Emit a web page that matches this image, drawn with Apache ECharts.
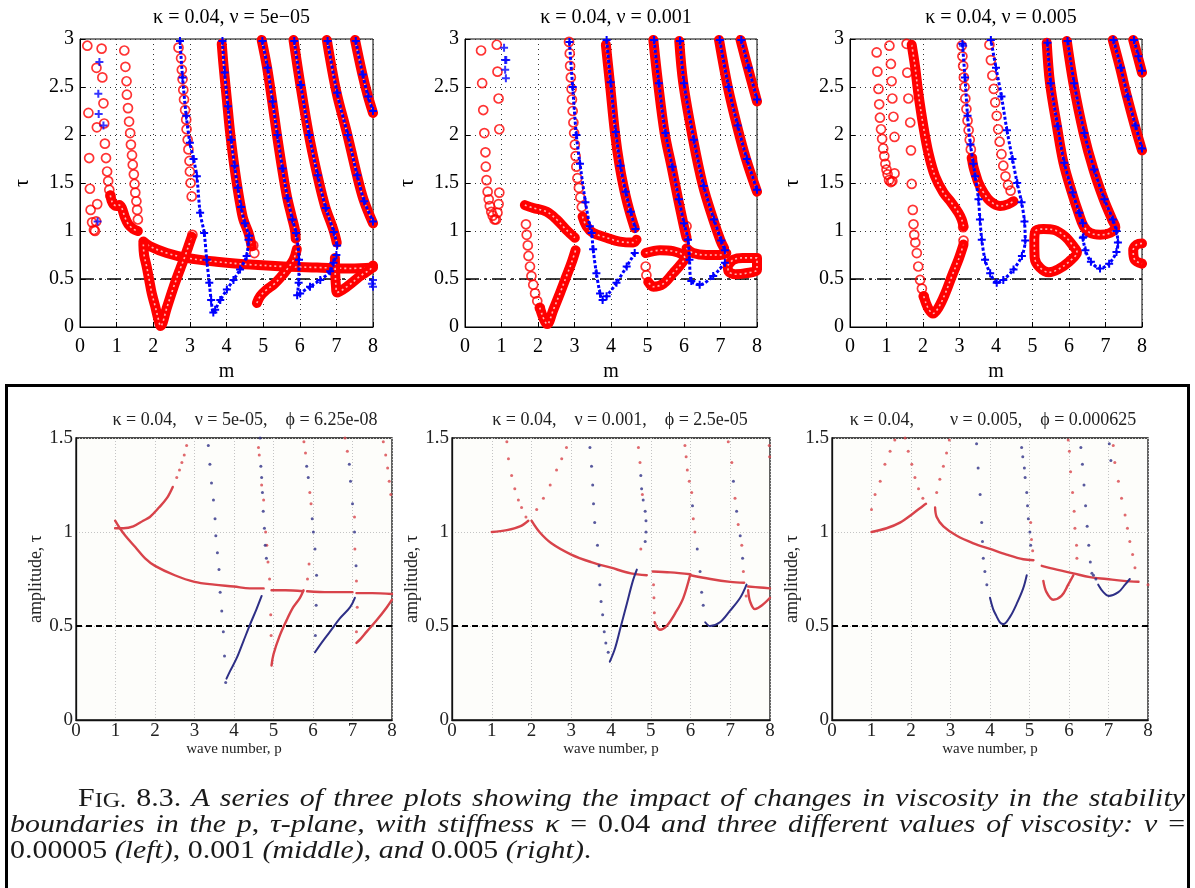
<!DOCTYPE html>
<html><head><meta charset="utf-8">
<script src="https://cdn.jsdelivr.net/npm/echarts@6/dist/echarts.min.js"></script>
<style>html,body{margin:0;padding:0;background:#fff}#c{width:1195px;height:888px}</style>
</head><body><div id="c"></div>
<script>
// ---------- tick labels / titles ----------
const mTicks = [0,1,2,3,4,5,6,7,8];
const tauTicksTop = [0,0.5,1,1.5,2,2.5,3];
const ampTicksBottom = [0,0.5,1,1.5];
const tauThreshold = [[0,0.5],[8,0.5]];
const topTitles = ['κ = 0.04, ν = 5e−05','κ = 0.04, ν = 0.001','κ = 0.04, ν = 0.005'];
const bottomTitles = ['κ = 0.04,    ν = 5e-05,    ϕ = 6.25e-08','κ = 0.04,    ν = 0.001,    ϕ = 2.5e-05','κ = 0.04,        ν = 0.005,    ϕ = 0.000625'];

// ---------- top row, panel 1 (ν = 5e-05) ----------
const top1RedCircles = [
 [0.2,2.93],[0.23,2.23],[0.25,1.76],[0.27,1.44],[0.29,1.22],[0.33,1.09],[0.38,1.01],[0.41,1.0],[0.44,1.1],[0.47,1.28],[0.46,2.08],[0.45,2.7],
 [0.59,2.9],[0.61,2.6],[0.64,2.33],[0.66,2.12],[0.68,1.91],[0.71,1.76],[0.74,1.62],[0.77,1.52],[0.8,1.43],[0.83,1.37],
 [1.21,2.88],[1.24,2.71],[1.27,2.56],[1.28,2.42],[1.31,2.28],[1.34,2.14],[1.37,2.02],[1.39,1.9],[1.42,1.79],[1.44,1.69],[1.47,1.59],[1.49,1.49],[1.51,1.4],[1.54,1.31],[1.56,1.22],[1.58,1.12],
 [2.69,2.91],[2.76,2.8],[2.78,2.68],[2.8,2.58],[2.82,2.47],[2.84,2.37],[2.87,2.26],[2.9,2.16],[2.91,2.06],[2.94,1.95],[2.96,1.85],[2.99,1.73],[3.0,1.62],[3.02,1.5],[3.05,1.36],
 [3.07,0.96],[4.76,0.77],[4.73,0.85]
];
const top1RedBands = [
 [[0.83,1.37],[0.86,1.32],[0.91,1.28],[1.0,1.26],[1.07,1.27],[1.14,1.24],[1.23,1.14],[1.32,1.07],[1.46,1.02],[1.58,1.0]],
 [[1.73,0.89],[1.91,0.84],[2.37,0.77],[2.91,0.72],[3.73,0.68],[4.64,0.65],[5.56,0.63],[6.47,0.62],[7.38,0.61],[8.0,0.62]],
 [[1.73,0.86],[1.75,0.75],[1.82,0.63],[1.89,0.49],[1.96,0.35],[2.05,0.22],[2.14,0.08],[2.2,0.01],[2.37,0.2],[2.55,0.41],[2.73,0.6],[2.87,0.74],[2.96,0.84],[3.05,0.94]],
 [[3.87,2.95],[3.92,2.72],[4.01,2.37],[4.1,2.02],[4.19,1.74],[4.28,1.5],[4.37,1.29],[4.46,1.12],[4.6,0.98],[4.69,0.84]],
 [[4.96,2.99],[5.1,2.72],[5.24,2.37],[5.37,2.02],[5.51,1.67],[5.65,1.36],[5.78,1.15],[5.87,1.01],[5.89,0.92]],
 [[4.83,0.25],[4.92,0.32],[5.1,0.39],[5.28,0.44],[5.46,0.51],[5.65,0.6],[5.83,0.7],[5.92,0.81]],
 [[5.83,2.99],[6.01,2.54],[6.24,2.02],[6.47,1.6],[6.69,1.26],[6.92,1.01],[7.01,0.88]],
 [[6.74,2.99],[7.0,2.45],[7.29,2.02],[7.55,1.6],[7.74,1.33],[8.0,1.08]],
 [[7.51,2.99],[7.7,2.65],[7.85,2.42],[8.0,2.23]],
 [[6.96,0.72],[6.97,0.55],[6.99,0.42],[7.02,0.36],[7.29,0.42],[7.65,0.53],[7.92,0.6],[8.0,0.64]]
];
const top1BluePaths = [
 [[2.73,2.98],[2.8,2.6],[2.9,2.2],[3.0,1.92],[3.1,1.75],[3.19,1.57],[3.28,1.19],[3.39,0.98],[3.46,0.7],[3.53,0.46],[3.58,0.28],[3.64,0.15],[3.69,0.18],[3.83,0.28],[4.01,0.39],[4.19,0.49],[4.37,0.6],[4.55,0.74],[4.6,0.91]],
 [[3.89,2.98],[3.95,2.65],[4.04,2.3],[4.13,1.95],[4.22,1.68],[4.31,1.45],[4.4,1.25],[4.5,1.08],[4.62,0.95]],
 [[4.98,2.98],[5.12,2.7],[5.26,2.35],[5.39,2.0],[5.53,1.65],[5.67,1.34],[5.8,1.12],[5.9,0.98],[5.98,0.7],[5.97,0.46],[5.93,0.33],[6.01,0.35],[6.28,0.42],[6.56,0.49],[6.83,0.58],[6.92,0.67],[7.0,0.75]],
 [[5.85,2.98],[6.03,2.52],[6.26,2.0],[6.49,1.58],[6.71,1.24],[6.93,0.99],[7.02,0.85]],
 [[6.76,2.98],[7.02,2.44],[7.31,2.0],[7.57,1.58],[7.76,1.31],[8.0,1.1]],
 [[7.53,2.98],[7.72,2.63],[7.87,2.4],[8.0,2.25]]
];
const top1BlueCrosses = [[0.53,2.76],[0.5,2.43],[0.51,2.22],[0.64,2.1],[0.48,1.1],[8.0,0.49],[8.0,0.42],[7.97,0.45]];

// ---------- top row, panel 2 (ν = 0.001) ----------
const top2RedCircles = [
 [0.44,2.88],[0.47,2.54],[0.5,2.26],[0.53,2.02],[0.56,1.82],[0.57,1.67],[0.59,1.53],[0.62,1.41],[0.65,1.33],[0.68,1.26],[0.72,1.2],[0.76,1.16],[0.81,1.12],[0.85,1.12],[0.89,1.19],[0.92,1.28],[0.94,1.4],
 [0.87,2.94],[0.89,2.66],[0.92,2.38],[0.94,2.06],
 [1.67,1.07],[1.69,0.96],[1.72,0.85],[1.74,0.74],[1.78,0.63],[1.82,0.53],[1.87,0.44],[1.92,0.35],[1.98,0.27],[2.05,0.2],
 [2.85,2.97],[2.87,2.85],[2.88,2.72],[2.9,2.6],[2.92,2.48],[2.93,2.37],[2.95,2.25],[2.97,2.13],[2.99,2.02],[3.01,1.9],[3.03,1.78],[3.05,1.67],[3.08,1.55],[3.12,1.45],[3.16,1.35],[3.2,1.25],
 [4.95,0.63],[4.97,0.54],[6.07,1.05]
];
const top2RedBands = [
 [[1.64,1.27],[1.87,1.24],[2.24,1.2],[2.51,1.12],[2.78,1.01],[3.01,0.93]],
 [[2.05,0.2],[2.12,0.12],[2.2,0.05],[2.25,0.03],[2.42,0.18],[2.6,0.35],[2.78,0.53],[2.92,0.67],[3.03,0.8]],
 [[3.22,1.15],[3.33,1.05],[3.51,0.98],[3.88,0.93],[4.24,0.89],[4.61,0.88],[4.7,0.91]],
 [[3.86,2.94],[3.97,2.54],[4.11,2.02],[4.24,1.67],[4.38,1.4],[4.52,1.19],[4.65,1.03]],
 [[5.16,2.99],[5.29,2.54],[5.47,2.02],[5.66,1.67],[5.84,1.33],[5.98,1.08],[6.07,0.93]],
 [[4.95,0.77],[5.34,0.8],[5.7,0.79],[5.98,0.75],[6.02,0.72],[5.93,0.66],[5.7,0.56],[5.43,0.45],[5.16,0.42],[5.02,0.47]],
 [[5.87,2.98],[5.98,2.54],[6.25,1.95],[6.52,1.47],[6.8,1.12],[7.0,0.9],[7.1,0.82]],
 [[6.07,0.82],[6.25,0.77],[6.61,0.75],[6.98,0.75],[7.16,0.77]],
 [[6.96,2.99],[7.2,2.5],[7.45,2.1],[7.7,1.75],[8.0,1.41]],
 [[7.55,2.99],[7.75,2.7],[8.0,2.35]],
 [[7.2,0.64],[7.35,0.7],[7.6,0.72],[8.0,0.72],[8.0,0.6],[7.7,0.56],[7.4,0.55],[7.22,0.58],[7.2,0.64]]
];
const top2BluePaths = [
 [[2.86,2.97],[2.95,2.5],[3.05,2.0],[3.15,1.7],[3.3,1.3],[3.42,1.05],[3.47,0.98],[3.51,0.81],[3.6,0.56],[3.7,0.35],[3.77,0.28],[3.88,0.32],[4.15,0.46],[4.43,0.63],[4.65,0.77]],
 [[3.88,2.99],[3.99,2.55],[4.13,2.03],[4.26,1.68],[4.4,1.41],[4.54,1.2],[4.67,1.02]],
 [[5.18,2.99],[5.31,2.54],[5.49,2.02],[5.68,1.67],[5.86,1.33],[6.0,1.08],[6.11,0.91],[6.15,0.7],[6.2,0.48],[6.43,0.44],[6.8,0.53],[7.12,0.67]],
 [[5.89,2.98],[6.0,2.54],[6.27,1.95],[6.54,1.47],[6.82,1.12],[7.02,0.9],[7.12,0.8]],
 [[6.98,2.99],[7.22,2.5],[7.47,2.1],[7.72,1.75],[8.0,1.43]],
 [[7.57,2.99],[7.77,2.7],[8.0,2.37]]
];
const top2BlueCrosses = [[1.07,2.91],[1.1,2.78],[1.13,2.78],[1.1,2.68],[1.12,2.59]];

// ---------- top row, panel 3 (ν = 0.005) ----------
const top3RedCircles = [
 [0.73,2.86],[0.75,2.66],[0.78,2.48],[0.8,2.32],[0.82,2.18],[0.85,2.06],[0.88,1.96],[0.91,1.86],[0.94,1.78],[0.97,1.7],[1.0,1.64],[1.03,1.59],[1.07,1.53],[1.12,1.51],[1.16,1.52],[1.22,1.6],
 [1.08,2.93],[1.12,2.74],[1.14,2.56],[1.16,2.38],[1.19,2.19],[1.22,1.98],
 [1.55,2.95],[1.57,2.65],[1.6,2.38],[1.65,2.13],[1.67,1.84],[1.69,1.49],[1.72,1.22],[1.74,1.07],[1.76,0.96],[1.79,0.88],[1.83,0.77],[1.87,0.63],[1.92,0.49],[1.97,0.4],[2.02,0.32],
 [3.06,2.93],[3.08,2.82],[3.1,2.72],[3.12,2.6],[3.14,2.5],[3.16,2.38],[3.19,2.27],[3.22,2.15],[3.25,2.05],[3.28,1.95],[3.31,1.85],[3.34,1.76],
 [3.82,2.94],[3.86,2.78],[3.9,2.62],[3.94,2.48],[3.98,2.34],[4.02,2.2],[4.06,2.06],[4.1,1.93],[4.15,1.8],[4.2,1.68],[4.26,1.57],[4.33,1.48],[4.4,1.42],
 [3.1,1.04],[3.11,0.9]
];
const top3RedBands = [
 [[1.69,2.94],[1.78,2.72],[1.87,2.44],[2.01,2.09],[2.15,1.81],[2.33,1.57],[2.56,1.4],[2.79,1.29],[2.97,1.19],[3.06,1.12],[3.11,1.05]],
 [[2.02,0.32],[2.08,0.25],[2.15,0.19],[2.27,0.14],[2.42,0.2],[2.61,0.35],[2.79,0.53],[2.97,0.7],[3.11,0.86]],
 [[3.34,1.76],[3.38,1.67],[3.45,1.58],[3.52,1.5],[3.66,1.4],[3.84,1.31],[4.11,1.26],[4.34,1.28],[4.48,1.31]],
 [[5.39,2.96],[5.48,2.54],[5.67,2.09],[5.85,1.71],[6.08,1.4],[6.26,1.19],[6.4,1.05],[6.58,0.98],[6.86,0.96],[7.13,0.98],[7.27,1.04],[7.18,1.12],[6.95,1.33],[6.67,1.64],[6.4,2.02],[6.12,2.54],[5.94,2.98]],
 [[7.2,2.99],[7.4,2.7],[7.59,2.4],[7.8,2.1],[8.0,1.84]],
 [[7.76,2.99],[7.88,2.82],[8.0,2.65]],
 [[5.05,0.9],[5.08,1.0],[5.3,1.02],[5.6,1.01],[5.9,0.94],[6.1,0.85],[6.22,0.78],[6.0,0.68],[5.7,0.6],[5.45,0.57],[5.2,0.62],[5.06,0.72],[5.05,0.9]],
 [[8.0,0.87],[7.86,0.86],[7.76,0.8],[7.8,0.7],[8.0,0.66]]
];
const top3BluePaths = [
 [[3.08,2.95],[3.15,2.6],[3.22,2.2],[3.3,1.9],[3.38,1.7],[3.43,1.57],[3.52,1.33],[3.56,1.12],[3.61,0.91],[3.7,0.7],[3.84,0.56],[4.02,0.46],[4.2,0.49],[4.48,0.6],[4.71,0.74],[4.8,0.9],[4.78,1.1],[4.7,1.3],[4.58,1.5],[4.45,1.75],[4.3,2.05],[4.15,2.4],[4.0,2.7],[3.86,2.99]],
 [[6.38,0.93],[6.45,0.8],[6.6,0.68],[6.85,0.61],[7.1,0.66],[7.3,0.78],[7.34,0.88],[7.3,1.0],[7.2,1.12],[6.97,1.33],[6.69,1.64],[6.42,2.02],[6.14,2.54],[5.96,2.98]],
 [[5.41,2.96],[5.5,2.54],[5.69,2.09],[5.87,1.71],[6.1,1.4],[6.28,1.19],[6.38,1.08]],
 [[7.22,2.99],[7.42,2.7],[7.61,2.4],[7.82,2.1],[8.0,1.86]],
 [[7.78,2.99],[7.9,2.82],[8.0,2.67]]
];
const top3BlueCrosses = [[6.4,0.94],[3.1,2.93]];

// ---------- bottom row, panel A ----------
const bot1RedLines = [
 [[0.99,1.02],[1.2,1.02],[1.45,1.03],[1.7,1.06],[1.87,1.08],[2.1,1.13],[2.3,1.18],[2.45,1.24]],
 [[0.99,1.06],[1.11,1.02],[1.25,0.98],[1.5,0.92],[1.75,0.86],[2.0,0.82],[2.5,0.77],[3.0,0.735],[3.5,0.72],[4.0,0.71],[4.4,0.7],[4.75,0.7]],
 [[4.95,0.69],[5.3,0.69],[5.75,0.685]],
 [[5.85,0.685],[6.4,0.68],[7.0,0.68]],
 [[7.1,0.675],[7.5,0.675],[8.0,0.67]],
 [[4.95,0.29],[5.0,0.35],[5.16,0.45],[5.33,0.53],[5.5,0.6],[5.67,0.65],[5.76,0.69]],
 [[7.1,0.41],[7.2,0.43],[7.36,0.47],[7.61,0.53],[7.87,0.6],[8.0,0.64]]
];
const bot1RedDots = [
 [2.55,1.29],[2.62,1.33],[2.68,1.37],[2.74,1.41],[2.8,1.46],
 [4.62,1.45],[4.64,1.41],[4.7,1.25],[4.75,1.17],[4.8,1.0],[4.83,0.93],[4.86,0.84],[4.9,0.75],[4.93,0.56],[4.94,0.45],
 [5.77,1.48],[5.81,1.42],[5.92,1.21],[5.95,1.15],[5.9,0.83],[5.86,0.75],
 [6.81,1.5],[6.87,1.43],[7.05,1.08],[7.06,0.91],[7.1,0.74],[7.12,0.6],[7.1,0.47],
 [7.78,1.48],[7.84,1.41],[7.89,1.34],[7.93,1.27],[7.97,1.2]
];
const bot1NavyLines = [
 [[3.81,0.22],[3.9,0.26],[4.07,0.33],[4.24,0.42],[4.41,0.51],[4.57,0.59],[4.7,0.66]],
 [[6.05,0.36],[6.18,0.4],[6.43,0.47],[6.68,0.54],[6.94,0.6],[7.06,0.65]]
];
const bot1NavyDots = [
 [3.35,1.46],[3.39,1.36],[3.43,1.26],[3.48,1.17],[3.52,1.07],[3.54,0.98],[3.58,0.89],[3.62,0.8],[3.65,0.68],[3.69,0.58],[3.73,0.47],[3.76,0.34],[3.79,0.2],
 [4.66,1.5],[4.68,1.35],[4.7,1.29],[4.72,1.21],[4.74,1.11],[4.77,1.02],[4.79,0.93],[4.82,0.86],
 [5.84,1.35],[5.88,1.29],[5.98,1.07],[6.01,1.0],[6.05,0.91],[6.09,0.77],[6.08,0.61],[6.06,0.45],
 [6.92,1.36],[6.95,1.27],[7.0,1.15],[7.05,1.0],[7.09,0.82]
];

// ---------- bottom row, panel B ----------
const bot2RedLines = [
 [[1.0,1.0],[1.38,1.01],[1.71,1.03],[1.92,1.06]],
 [[2.0,1.06],[2.2,1.0],[2.5,0.94],[3.0,0.88],[3.5,0.84],[4.0,0.81],[4.5,0.78],[4.9,0.77]],
 [[5.05,0.79],[5.5,0.785],[6.0,0.775]],
 [[6.0,0.77],[6.5,0.75],[7.0,0.735],[7.35,0.73]],
 [[7.45,0.71],[7.75,0.705],[8.0,0.7]],
 [[5.1,0.52],[5.23,0.48],[5.4,0.5],[5.65,0.58],[5.82,0.65],[5.99,0.77]],
 [[7.45,0.69],[7.5,0.63],[7.62,0.59],[7.8,0.61],[8.0,0.65]]
];
const bot2RedDots = [
 [1.38,1.48],[1.42,1.39],[1.5,1.3],[1.58,1.23],[1.67,1.17],[1.75,1.13],[1.86,1.08],
 [2.13,1.12],[2.3,1.18],[2.47,1.25],[2.63,1.33],[2.76,1.39],[2.88,1.45],
 [4.69,1.45],[4.73,1.37],[4.79,1.2],[4.75,0.91],
 [5.07,0.72],[5.08,0.65],[5.09,0.57],
 [5.86,1.46],[5.89,1.4],[5.92,1.33],[5.97,1.27],[6.03,1.21],[6.07,1.07],[6.11,1.0],
 [6.95,1.48],[7.04,1.37],[7.12,1.18],[7.2,1.04],[7.29,0.93],[7.33,0.79],[7.4,0.66],
 [7.98,1.46],[7.99,1.4]
];
const bot2NavyLines = [
 [[3.97,0.31],[4.1,0.38],[4.25,0.5],[4.4,0.62],[4.55,0.74],[4.65,0.8]],
 [[6.37,0.52],[6.49,0.5],[6.74,0.52],[6.99,0.58],[7.25,0.65],[7.41,0.72]]
];
const bot2NavyDots = [
 [3.47,1.45],[3.51,1.35],[3.54,1.25],[3.56,1.15],[3.59,1.05],[3.66,0.93],[3.7,0.82],[3.72,0.72],[3.75,0.63],[3.79,0.56],[3.83,0.47],[3.87,0.41],[3.93,0.36],
 [4.75,1.3],[4.77,1.23],[4.81,1.17],[4.86,1.11],[4.88,1.06],[4.88,1.0],[4.86,0.95],
 [6.05,1.14],[6.17,0.91],[6.24,0.79],[6.28,0.68],[6.32,0.61],
 [7.08,1.27],[7.16,1.11],[7.25,0.98],[7.31,0.86]
];

// ---------- bottom row, panel C ----------
const bot3RedLines = [
 [[1.0,1.0],[1.38,1.02],[1.72,1.05],[2.06,1.1],[2.31,1.14],[2.38,1.15]],
 [[2.61,1.13],[2.65,1.08],[2.82,1.03],[3.16,0.98],[3.58,0.94],[4.0,0.91],[4.42,0.88],[4.84,0.855],[5.1,0.85]],
 [[5.31,0.82],[5.69,0.8],[6.11,0.78],[6.53,0.76],[6.95,0.75],[7.38,0.74],[7.76,0.735]],
 [[5.35,0.74],[5.43,0.68],[5.6,0.64],[5.81,0.66],[5.98,0.72],[6.11,0.77]]
];
const bot3RedDots = [
 [1.0,1.12],[1.09,1.2],[1.22,1.27],[1.34,1.36],[1.47,1.43],[1.59,1.49],
 [1.85,1.5],[1.93,1.43],[2.02,1.36],[2.1,1.29],[2.19,1.23],[2.3,1.18],
 [2.65,1.21],[2.73,1.28],[2.82,1.35],[2.9,1.42],[2.97,1.49],
 [5.03,1.05],[5.05,0.96],[5.08,0.9],
 [5.98,1.49],[6.01,1.43],[6.04,1.32],[6.09,1.21],[6.13,1.11],[6.15,1.02],[6.19,0.93],[6.2,0.86],
 [7.12,1.46],[7.16,1.37],[7.25,1.27],[7.33,1.18],[7.42,1.09],[7.48,1.02],[7.54,0.95],[7.61,0.88],[7.67,0.81],
 [8.0,0.72]
];
const bot3NavyLines = [
 [[4.0,0.65],[4.08,0.59],[4.17,0.55],[4.25,0.52],[4.34,0.51],[4.51,0.55],[4.68,0.62],[4.84,0.7],[4.93,0.77]],
 [[6.74,0.72],[6.87,0.68],[7.0,0.66],[7.25,0.68],[7.42,0.72],[7.54,0.75]]
];
const bot3NavyDots = [
 [3.66,1.47],[3.7,1.34],[3.75,1.2],[3.79,1.05],[3.81,0.95],[3.83,0.86],[3.87,0.79],[3.92,0.72],
 [4.8,1.45],[4.83,1.4],[4.87,1.34],[4.89,1.29],[4.93,1.21],[4.95,1.14],[4.97,1.07],[5.01,1.0],[5.03,0.93],
 [6.3,1.45],[6.34,1.36],[6.38,1.25],[6.42,1.14],[6.46,1.03],[6.5,0.93],[6.54,0.84],[6.58,0.78],[6.62,0.77],[6.68,0.75],
 [7.02,1.47],[7.06,1.38]
];

// ---------- caption ----------
const captionLines = [
 [['rm','F'],['sc','IG.'],['rm',' 8.3. '],['it','A series of three plots showing the impact of changes in viscosity in the stability']],
 [['it','boundaries in the p'],['rm',', '],['it','τ-plane, with stiffness κ'],['rm',' = 0.04 '],['it','and three different values of viscosity: ν'],['rm',' =']],
 [['rm','0.00005 '],['it','(left)'],['rm',', 0.001 '],['it','(middle)'],['rm',', '],['it','and'],['rm',' 0.005 '],['it','(right)'],['rm','.']]
];

// ================= rendering =================
const SERIF = '"Liberation Serif", "DejaVu Serif", serif';
const RED = '#ff0000', BLUE = '#0000ff', BRED = '#d8434a', NAVY = '#2e2f86';
const PLUS = 'path://M3,0H5V3H8V5H5V8H3V5H0V3H3Z';

const topGrids = [
 {left:80, top:39, width:293, height:288},
 {left:465, top:39, width:292, height:288},
 {left:850, top:39, width:292, height:288}
];
const botGrids = [
 {left:76, top:438, width:316, height:282},
 {left:452, top:438, width:318, height:282},
 {left:832, top:438, width:316, height:282}
];
const grids = [];
topGrids.forEach(g => grids.push(Object.assign({show:true, borderColor:'#000', borderWidth:1, backgroundColor:'transparent'}, g)));
botGrids.forEach(g => grids.push(Object.assign({show:true, borderColor:'#111', borderWidth:1.3, backgroundColor:'#fdfdfa'}, g)));

const xAxes = [], yAxes = [];
for (let i = 0; i < 3; i++) {
  xAxes.push({gridIndex:i, type:'value', min:mTicks[0], max:mTicks[mTicks.length-1], interval:mTicks[1]-mTicks[0],
    name:'m', nameLocation:'middle', nameGap:35, nameTextStyle:{fontFamily:SERIF, fontSize:20, color:'#000'},
    axisLine:{show:true, lineStyle:{color:'#000', width:1}},
    axisTick:{show:true, inside:true, length:5, lineStyle:{color:'#000'}},
    axisLabel:{fontFamily:SERIF, fontSize:20, color:'#000', margin:10},
    splitLine:{show:true, lineStyle:{color:'#333', type:[1,4], width:1}}});
  yAxes.push({gridIndex:i, type:'value', min:tauTicksTop[0], max:tauTicksTop[tauTicksTop.length-1], interval:tauTicksTop[1]-tauTicksTop[0],
    name:'τ', nameLocation:'middle', nameGap:47, nameRotate:90, nameTextStyle:{fontFamily:SERIF, fontSize:20, color:'#000'},
    axisLine:{show:true, lineStyle:{color:'#000', width:1}},
    axisTick:{show:true, inside:true, length:5, lineStyle:{color:'#000'}},
    axisLabel:{fontFamily:SERIF, fontSize:20, color:'#000', margin:6},
    splitLine:{show:true, lineStyle:{color:'#333', type:[1,4], width:1}}});
}
for (let i = 0; i < 3; i++) {
  xAxes.push({gridIndex:3+i, type:'value', min:mTicks[0], max:mTicks[mTicks.length-1], interval:mTicks[1]-mTicks[0],
    name:'wave number, p', nameLocation:'middle', nameGap:17, nameTextStyle:{fontFamily:SERIF, fontSize:15, color:'#222'},
    axisLine:{show:true, lineStyle:{color:'#111', width:1.3}},
    axisTick:{show:false},
    axisLabel:{fontFamily:SERIF, fontSize:19, color:'#222', margin:2},
    splitLine:{show:true, lineStyle:{color:'#c4c4c4', type:[1,2], width:1}}});
  yAxes.push({gridIndex:3+i, type:'value', min:ampTicksBottom[0], max:ampTicksBottom[ampTicksBottom.length-1], interval:ampTicksBottom[1]-ampTicksBottom[0],
    name:'amplitude, τ', nameLocation:'middle', nameGap:19, nameRotate:90, nameTextStyle:{fontFamily:SERIF, fontSize:18, color:'#222'},
    axisLine:{show:true, lineStyle:{color:'#111', width:1.3}},
    axisTick:{show:false},
    axisLabel:{fontFamily:SERIF, fontSize:19, color:'#222', margin:3},
    splitLine:{show:true, lineStyle:{color:'#c4c4c4', type:[1,2], width:1}}});
}

const series = [];
function add(gi, s) { series.push(Object.assign({xAxisIndex:gi, yAxisIndex:gi, silent:true, animation:false, clip:false}, s)); }

function topPanel(gi, bands, circles, bluePaths, blueCrosses) {
  add(gi, {type:'line', data:tauThreshold, symbol:'none', z:1, lineStyle:{color:'#000', width:1.6, type:[14,5,3,5]}});
  bands.forEach(b => {
    add(gi, {type:'line', data:b, symbol:'none', smooth:0.35, z:2, lineStyle:{color:RED, width:10, cap:'round', join:'round'}});
    add(gi, {type:'line', data:b, symbol:'none', smooth:0.35, z:2, lineStyle:{color:'rgba(255,215,215,0.85)', width:1.6, type:[2,3], cap:'butt'}});
  });
  add(gi, {type:'scatter', data:circles, symbol:'circle', symbolSize:9, z:3,
    itemStyle:{color:'rgba(255,255,255,0)', borderColor:RED, borderWidth:1.7}});
  bluePaths.forEach(b => add(gi, {type:'line', data:b, symbol:PLUS, symbolSize:8, showAllSymbol:true, smooth:0.3, z:4,
    itemStyle:{color:BLUE}, lineStyle:{color:BLUE, width:3, type:[3,2]}}));
  add(gi, {type:'scatter', data:blueCrosses, symbol:PLUS, symbolSize:8, z:4, itemStyle:{color:BLUE}});
}
function botPanel(gi, redLines, redDots, navyLines, navyDots) {
  add(gi, {type:'line', data:tauThreshold, symbol:'none', z:1, lineStyle:{color:'#000', width:2.2, type:[6,4]}});
  redLines.forEach(b => add(gi, {type:'line', data:b, symbol:'none', smooth:0.35, z:3, lineStyle:{color:BRED, width:2.4, cap:'round'}}));
  add(gi, {type:'scatter', data:redDots, symbol:'circle', symbolSize:3, z:3, itemStyle:{color:BRED}});
  navyLines.forEach(b => add(gi, {type:'line', data:b, symbol:'none', smooth:0.35, z:3, lineStyle:{color:NAVY, width:2, cap:'round'}}));
  add(gi, {type:'scatter', data:navyDots, symbol:'circle', symbolSize:3, z:3, itemStyle:{color:NAVY}});
}
topPanel(0, top1RedBands, top1RedCircles, top1BluePaths, top1BlueCrosses);
topPanel(1, top2RedBands, top2RedCircles, top2BluePaths, top2BlueCrosses);
topPanel(2, top3RedBands, top3RedCircles, top3BluePaths, top3BlueCrosses);
botPanel(3, bot1RedLines, bot1RedDots, bot1NavyLines, bot1NavyDots);
botPanel(4, bot2RedLines, bot2RedDots, bot2NavyLines, bot2NavyDots);
botPanel(5, bot3RedLines, bot3RedDots, bot3NavyLines, bot3NavyDots);

const titles = [];
topGrids.forEach((g, i) => titles.push({text:topTitles[i], left:g.left + g.width/2, top:3, textAlign:'center',
  textStyle:{fontFamily:SERIF, fontSize:20, fontWeight:'normal', color:'#000'}}));
botGrids.forEach((g, i) => titles.push({text:bottomTitles[i], left:[240,615,988][i], top:406, textAlign:'center',
  textStyle:{fontFamily:SERIF, fontSize:18, fontWeight:'normal', color:'#222'}}));

// caption layout (justified lines; glyphs widened to match the wider original typeface)
const CS = 26, SX = 1.15;
const fonts = {rm: CS + 'px ' + SERIF, it: 'italic ' + CS + 'px ' + SERIF, sc: Math.round(CS*0.8) + 'px ' + SERIF};
const ctx = document.createElement('canvas').getContext('2d');
function mw(f, t) { ctx.font = fonts[f]; return ctx.measureText(t).width * SX; }
function words(line) {
  const out = []; let cur = null;
  line.forEach(([f, txt]) => { for (const ch of txt) {
    if (ch === ' ') { if (cur) { out.push(cur); cur = null; } }
    else { if (!cur) cur = []; const last = cur[cur.length-1];
      if (last && last[0] === f) last[1] += ch; else cur.push([f, ch]); } } });
  if (cur) out.push(cur);
  return out;
}
const capLayout = [{x0:78, x1:1185, y:812}, {x0:10, x1:1185, y:838}, {x0:10, x1:null, y:864}];
const graphics = [{type:'rect', shape:{x:6.5, y:385.5, width:1182, height:560}, style:{fill:'none', stroke:'#000', lineWidth:3}, silent:true}];
captionLines.forEach((line, li) => {
  const L = capLayout[li]; const ws = words(line);
  const widths = ws.map(w => w.reduce((s, p) => s + mw(p[0], p[1]), 0));
  const total = widths.reduce((a, b) => a + b, 0);
  let gap = L.x1 ? (L.x1 - L.x0 - total) / (ws.length - 1) : mw('rm', ' ');
  let x = L.x0;
  ws.forEach((w, wi) => {
    let px = x;
    w.forEach(p => { graphics.push({type:'text', x:px, y:L.y, scaleX:SX, silent:true,
      style:{text:p[1], font:fonts[p[0]], fill:'#1a1a1a', align:'left', verticalAlign:'bottom'}}); px += mw(p[0], p[1]); });
    x += widths[wi] + gap;
  });
});

const chart = echarts.init(document.getElementById('c'), null, {renderer:'canvas'});
chart.setOption({
  animation:false, backgroundColor:'#fff',
  title:titles, grid:grids, xAxis:xAxes, yAxis:yAxes, series:series, graphic:{elements:graphics}
});
</script></body></html>
